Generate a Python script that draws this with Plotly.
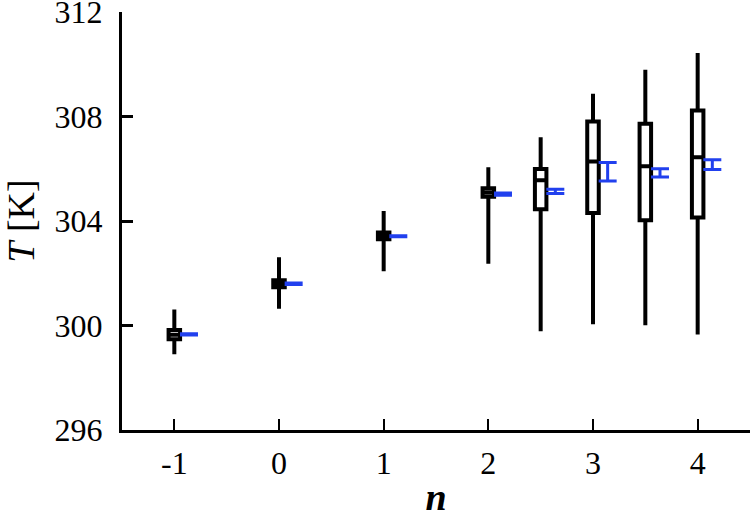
import plotly.graph_objects as go

# box positions (n) and box statistics in K
n_pos = [-1, 0, 1, 2, 2.5, 3, 3.5, 4]
upper = [300.61, 302.61, 304.38, 306.06, 307.21, 308.87, 309.79, 310.43]
q3 = [299.83, 301.73, 303.56, 305.25, 305.99, 307.81, 307.72, 308.23]
median = [299.65, 301.59, 303.45, 305.09, 305.56, 306.28, 306.10, 306.44]
q1 = [299.47, 301.46, 303.30, 304.93, 304.45, 304.31, 304.03, 304.13]
lower = [298.90, 300.64, 302.08, 302.36, 299.78, 300.05, 300.01, 299.66]

# blue error bars (low / high end), drawn just right of each box
err_lo = [299.64, 301.57, 303.40, 304.99, 305.05, 305.53, 305.68, 305.97]
err_hi = [299.68, 301.63, 303.44, 305.07, 305.22, 306.24, 306.00, 306.34]

x_ticks = [-1, 0, 1, 2, 3, 4]
y_ticks = [296, 300, 304, 308, 312]

BLUE = "#2140ee"
FONT = "Liberation Serif"

err_mid = [(a + b) / 2 for a, b in zip(err_lo, err_hi)]
err_half = [(b - a) / 2 for a, b in zip(err_lo, err_hi)]
err_x = [v + 0.14 for v in n_pos]

fig = go.Figure()

fig.add_trace(go.Box(
    x=n_pos, q1=q1, median=median, q3=q3,
    lowerfence=lower, upperfence=upper,
    width=0.11, whiskerwidth=0,
    line=dict(color="black", width=4),
    fillcolor="white", boxpoints=False,
    showlegend=False,
))

fig.add_trace(go.Scatter(
    x=err_x, y=err_mid, mode="markers",
    marker=dict(size=1, color=BLUE),
    error_y=dict(type="data", array=err_half, symmetric=True,
                 color=BLUE, thickness=3, width=9),
    showlegend=False,
))

fig.update_layout(
    width=750, height=518,
    margin=dict(l=122, r=0, t=12, b=88),
    paper_bgcolor="white", plot_bgcolor="white",
    font=dict(family=FONT, size=32, color="black"),
    showlegend=False,
)

fig.update_xaxes(
    range=[-1.5, 4.5], tickvals=x_ticks, ticktext=[str(v) for v in x_ticks],
    showline=True, linecolor="black", linewidth=3,
    ticks="inside", ticklen=11, tickwidth=2, tickcolor="black",
    ticklabelstandoff=3, ticklabeloverflow="allow",
    showgrid=False, zeroline=False, automargin=False,
    title=dict(text="<b><i>n</i></b>", standoff=18),
)
fig.update_yaxes(
    range=[296, 312], tickvals=y_ticks,
    showline=True, linecolor="black", linewidth=3,
    ticks="inside", ticklen=11, tickwidth=2.5, tickcolor="black",
    ticklabelstandoff=10, ticklabeloverflow="allow",
    showgrid=False, zeroline=False, automargin=False,
    title=dict(text="<i>T</i> [K]", standoff=10),
)

# drop the default 8px page margin so the figure sits at the window corner
fig.write_html("out.html", config={"displayModeBar": False},
               post_script="document.body.style.margin='0';")
